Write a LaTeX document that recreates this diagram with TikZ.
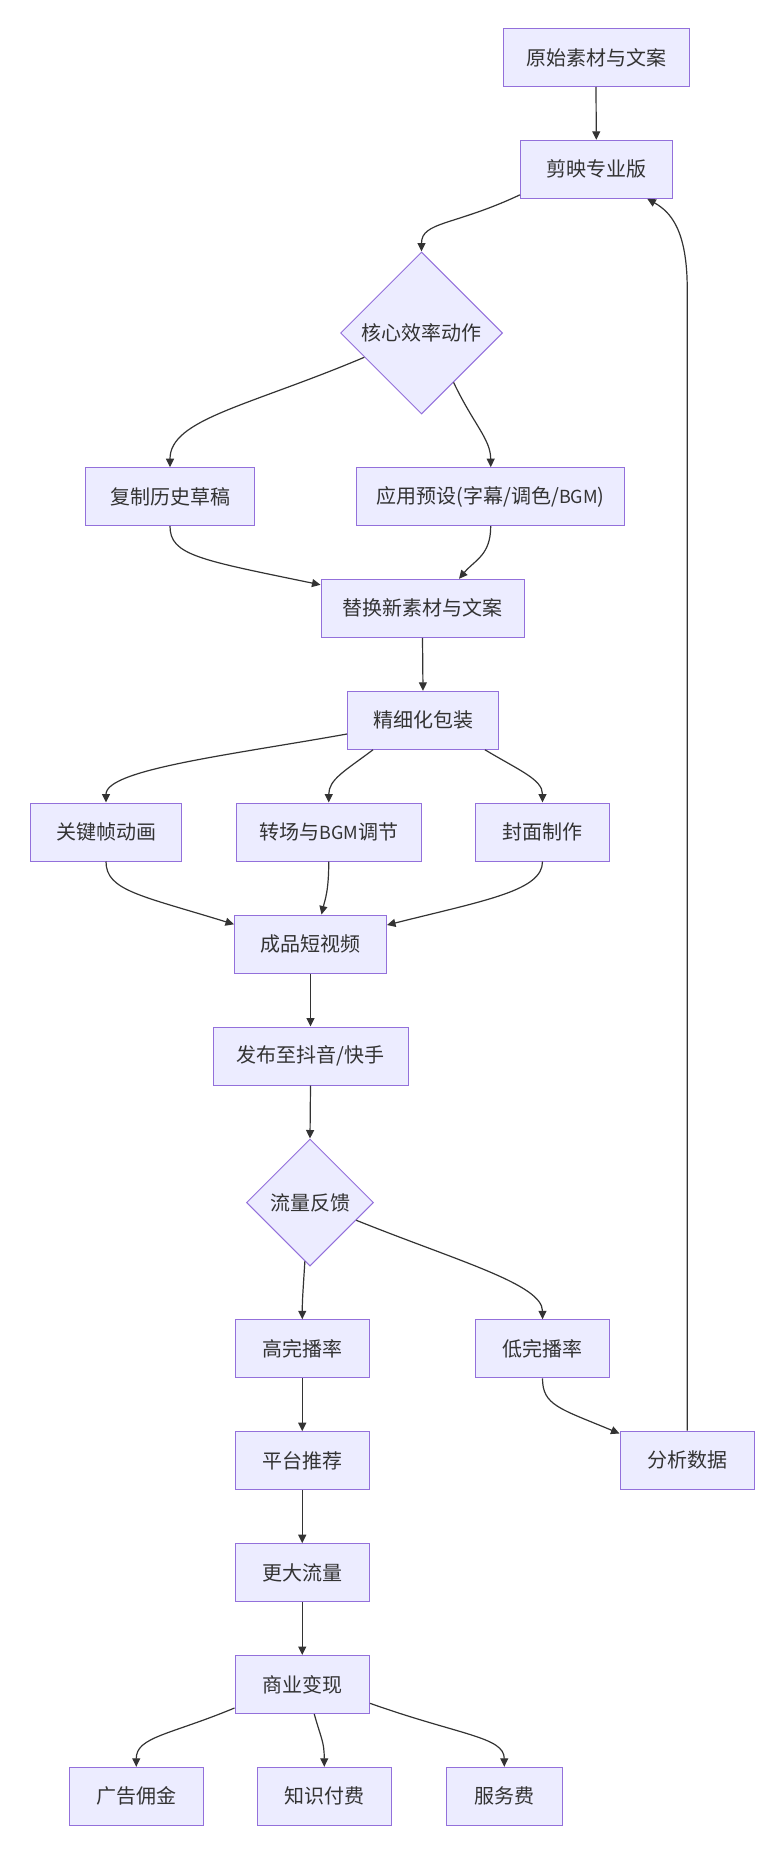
\documentclass[tikz,border=0pt]{standalone}
\usepackage{fontspec}
\setmainfont{Noto Sans CJK SC}
\usetikzlibrary{arrows.meta,shapes.geometric,calc}
\definecolor{nodefill}{HTML}{ECECFF}
\definecolor{nodeline}{HTML}{9370DB}
\definecolor{edgecol}{HTML}{333333}
\definecolor{txtcol}{HTML}{333333}
\newcommand\latn[1]{{\fontsize{18}{18}\selectfont #1}}
\begin{document}
\begin{tikzpicture}[x=1pt,y=-1pt,
  box/.style={draw=nodeline, fill=nodefill, line width=1pt, minimum height=58pt,
    inner sep=0pt, text=txtcol, font=\fontsize{20}{22}\selectfont},
  dia/.style={draw=nodeline, fill=nodefill, line width=1pt, diamond, aspect=1,
    inner sep=0pt, text=txtcol, font=\fontsize{20}{22}\selectfont},
  edge/.style={draw=edgecol, line width=1.2pt, -{Triangle[length=8.5pt,width=8pt]}},
]
\useasboundingbox (0,0) rectangle (780,1868);
% nodes
\node[box, minimum width=186pt] (A) at (596,57.5) {原始素材与文案};
\node[box, minimum width=151.5pt] (B) at (596.3,169.3) {剪映专业版};
\node[dia, minimum width=162pt, minimum height=162pt] (C) at (421.5,333) {核心效率动作};
\node[box, minimum width=168.5pt] (D) at (170,496.7) {复制历史草稿};
\node[box, minimum width=267.5pt] (E) at (490.7,496.7) {应用预设(字幕/调色/\latn{BGM})};
\node[box, minimum width=203pt] (F) at (422.5,608.3) {替换新素材与文案};
\node[box, minimum width=151pt] (G) at (423,720.3) {精细化包装};
\node[box, minimum width=151.5pt] (H) at (106,832) {关键帧动画};
\node[box, minimum width=185.5pt] (I) at (328.75,832) {转场与\latn{BGM}调节};
\node[box, minimum width=134pt] (J) at (542.5,832) {封面制作};
\node[box, minimum width=152pt] (K) at (310.5,944) {成品短视频};
\node[box, minimum width=195pt] (L) at (310.5,1056) {发布至抖音/快手};
\node[dia, minimum width=127pt, minimum height=127pt] (M) at (310,1202.5) {流量反馈};
\node[box, minimum width=134.5pt] (N) at (302.25,1348.8) {高完播率};
\node[box, minimum width=134pt] (O) at (542.5,1348.8) {低完播率};
\node[box, minimum width=134.5pt] (P) at (687.25,1460) {分析数据};
\node[box, minimum width=134.5pt] (Q) at (302.25,1460.7) {平台推荐};
\node[box, minimum width=134.5pt] (R) at (302.25,1572.7) {更大流量};
\node[box, minimum width=134.5pt] (S) at (302.25,1684.5) {商业变现};
\node[box, minimum width=133.5pt] (T) at (136.25,1796.3) {广告佣金};
\node[box, minimum width=133.5pt] (U) at (324.25,1796.3) {知识付费};
\node[box, minimum width=116.5pt] (V) at (504.25,1796.3) {服务费};
% edges
\draw[edge] (A.south) -- (B.north);
\draw[edge] ([yshift=4pt]B.south west) .. controls +(-66,31) and +(0,-30) .. (C.north);
\draw[edge] (C.203) .. controls +(-116,49) and +(0,-48) .. (D.north);
\draw[edge] (C.-57) .. controls +(20,42) and +(0,-28) .. (E.north);
\draw[edge] (D.south) .. controls +(0,29) and +(-121,-25) .. ([yshift=-6pt]F.north west);
\draw[edge] (E.south) .. controls +(0,29) and +(16,-19) .. ([xshift=36.5pt]F.north);
\draw[edge] (F.south) -- (G.north);
\draw[edge] ([yshift=-13.7pt]G.west) .. controls +(-117,21) and +(0,-33) .. (H.north);
\draw[edge] ([xshift=-50pt]G.south) .. controls +(-28,21) and +(0,-23) .. (I.north);
\draw[edge] ([xshift=62pt]G.south) .. controls +(35,21) and +(0,-23) .. (J.north);
\draw[edge] (H.south) .. controls +(0,29) and +(-94,-29) .. ([yshift=19.7pt]K.west);
\draw[edge] (I.south) .. controls +(0,30) and +(3.5,-15) .. ([xshift=11pt]K.north);
\draw[edge] (J.south) .. controls +(0,29) and +(100,-25) .. ([yshift=19pt]K.east);
\draw[edge] (K.south) -- (L.north);
\draw[edge] (L.south) -- (M.north);
\draw[edge] (M.-95) .. controls +(-1.5,25) and +(0,-20) .. (N.north);
\draw[edge] (M.-21) .. controls +(102,41) and +(0,-35) .. (O.north);
\draw[edge] (O.south) .. controls +(0,27) and +(-60,-25) .. ([yshift=-3pt]P.north west);
\draw[edge] (P.north) -- ++(0,-1141) .. controls +(0,-60) and +(23,13) .. ([xshift=51pt]B.south);
\draw[edge] (N.south) -- (Q.north);
\draw[edge] (Q.south) -- (R.north);
\draw[edge] (R.south) -- (S.north);
\draw[edge] ([yshift=6pt]S.south west) .. controls +(-65,27) and +(0,-30) .. (T.north);
\draw[edge] ([xshift=12pt]S.south) .. controls +(7,25) and +(0,-25) .. (U.north);
\draw[edge] ([yshift=-18.8pt]S.east) .. controls +(90,32) and +(0,-30) .. (V.north);
\end{tikzpicture}
\end{document}
